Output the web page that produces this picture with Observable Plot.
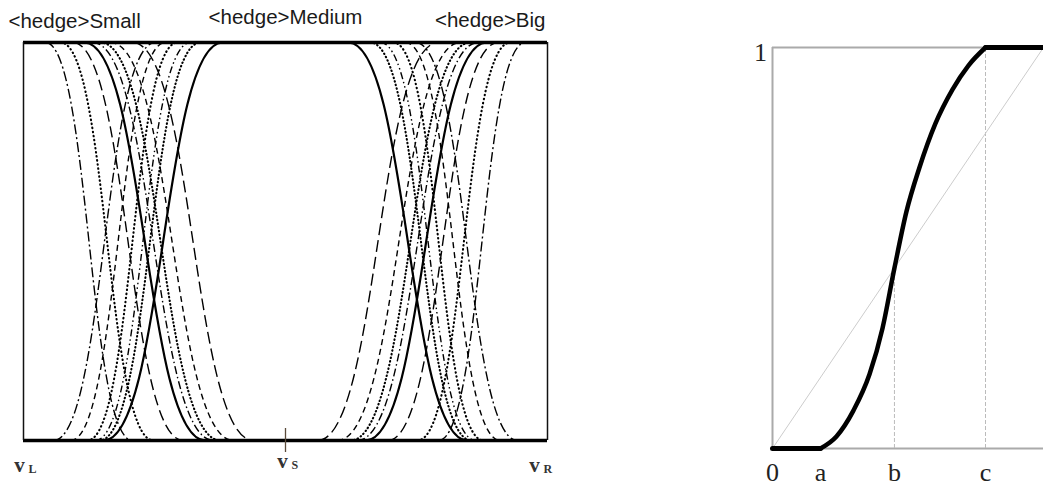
<!DOCTYPE html>
<html><head><meta charset="utf-8">
<script src="https://cdn.jsdelivr.net/npm/d3@7"></script>
<script src="https://cdn.jsdelivr.net/npm/@observablehq/plot@0.6"></script>
<style>
html,body{margin:0;padding:0;background:#fff;}
#wrap{position:relative;width:1043px;height:486px;overflow:hidden;background:#fff;}
#left{position:absolute;left:0;top:0;}
#right{position:absolute;left:700px;top:0;}
</style></head><body><div id="wrap"><div id="left"></div><div id="right"></div></div>
<script>
// ================= DATA =================
// Left panel: linguistic terms and the universe ticks v_L, v_S, v_R (scaled 0..1)
const termNames = ["Small", "Medium", "Big"];
const axisTickNames = ["L", "S", "R"];
const axisTickValues = [0, 0.5, 1];

// <hedge>Small : decreasing curves, x where μ leaves 1 and where μ reaches 0
const smallHedges = ["very very", "very", "more", "(none)", "possibly", "rather", "less", "little"];
const smallTop    = [0.042, 0.071, 0.094, 0.116, 0.132, 0.147, 0.166, 0.208];
const smallBottom = [0.208, 0.248, 0.305, 0.347, 0.363, 0.376, 0.401, 0.439];

// <hedge>Medium, left side: increasing curves (x where μ leaves 0, x where μ reaches 1)
const mediumLeftHedges = ["very very", "less", "very", "approximately", "rather", "(none)"];
const mediumLeftBottom = [0.057, 0.090, 0.122, 0.137, 0.145, 0.153];
const mediumLeftTop    = [0.252, 0.271, 0.294, 0.319, 0.338, 0.380];

// <hedge>Medium, right side: decreasing curves
const mediumRightHedges = ["very very", "less", "very", "approximately", "rather", "(none)"];
const mediumRightTop    = [0.748, 0.729, 0.706, 0.681, 0.662, 0.620];
const mediumRightBottom = [0.943, 0.910, 0.878, 0.863, 0.855, 0.847];

// <hedge>Big : increasing curves
const bigHedges = ["very very", "very", "more", "(none)", "possibly", "rather", "less", "little"];
const bigBottom = [0.792, 0.752, 0.695, 0.653, 0.637, 0.624, 0.599, 0.561];
const bigTop    = [0.958, 0.929, 0.906, 0.884, 0.868, 0.853, 0.834, 0.792];

// Right panel: S-shaped membership function on [0,1]
const sTickNames  = ["0", "a", "b", "c"];
const sTickValues = [0, 0.177, 0.45, 0.786];
const sCurveX = [0.177, 0.236, 0.299, 0.358, 0.406, 0.450, 0.494, 0.542, 0.601, 0.664, 0.723, 0.786];
const sCurveY = [0.000, 0.030, 0.095, 0.185, 0.300, 0.450, 0.590, 0.700, 0.810, 0.895, 0.955, 1.000];
const diagX = [0, 1];
const diagY = [0, 1];
const unitLabel = ["1"];

// ================= STYLES =================
const dashByHedge = {
  "very very": "10,3,2,3",
  "very": "0.5,3.6",
  "more": "11,5",
  "(none)": null,
  "possibly": "8,3,1.5,3",
  "rather": "0.5,3.2",
  "less": "6,4",
  "little": "12,5",
  "approximately": "7,3,1.5,3,1.5,3"
};
function curveMark(hedge, pts) {
  const d = dashByHedge[hedge];
  const dotted = d && d.startsWith("0.5");
  return Plot.line(pts, {
    x: "x", y: "y", curve: "bump-x",
    stroke: "#000",
    strokeWidth: d == null ? 2.2 : dotted ? 2.1 : 1.4,
    strokeDasharray: d == null ? undefined : d,
    strokeLinecap: dotted ? "round" : "butt"
  });
}
function familyMarks(hedges, a, b, aLevel, bLevel) {
  return hedges.map((h, i) => curveMark(h, [{x: a[i], y: aLevel}, {x: b[i], y: bLevel}]));
}

const curveMarks = [
  ...familyMarks(smallHedges, smallTop, smallBottom, 1, 0),
  ...familyMarks(mediumLeftHedges, mediumLeftBottom, mediumLeftTop, 0, 1),
  ...familyMarks(mediumRightHedges, mediumRightTop, mediumRightBottom, 1, 0),
  ...familyMarks(bigHedges, bigBottom, bigTop, 0, 1)
];

const termAnchor = ["start", "middle", "end"];
const termDx = [-15, 0, -2];
const termDy = [-21, -25, -22];
const vDx = [-4, -3, -13];
const vDy = [25, 21, 25];

const termMarks = termNames.map((t, i) => Plot.text([t], {
  x: () => axisTickValues[i], y: () => 1, text: d => `<hedge>${d}`,
  textAnchor: termAnchor[i], dx: termDx[i], dy: termDy[i],
  fontFamily: "Liberation Sans, Arial, sans-serif", fontSize: 20.5, fill: "#1a1a1a"
}));
const vMarks = axisTickValues.flatMap((v, i) => [
  Plot.text([v], {x: d => d, y: () => 0, text: () => "v", dx: vDx[i], dy: vDy[i],
    fontFamily: "Liberation Serif, serif", fontSize: 21, fontWeight: "bold", fill: "#333"}),
  Plot.text([v], {x: d => d, y: () => 0, text: () => axisTickNames[i], dx: vDx[i] + 9, dy: vDy[i] + 4,
    textAnchor: "start",
    fontFamily: "Liberation Serif, serif", fontSize: 12, fontWeight: "bold", fill: "#333"})
]);

const left = Plot.plot({
  width: 560, height: 486,
  marginLeft: 23, marginRight: 13, marginTop: 42, marginBottom: 46,
  x: {domain: [0, 1], axis: null},
  y: {domain: [0, 1], axis: null},
  style: {background: "white", overflow: "visible"},
  marks: [
    ...curveMarks,
    Plot.ruleY([0, 1], {stroke: "#000", strokeWidth: 3.5}),
    Plot.ruleX([0, 1], {stroke: "#111", strokeWidth: 1.5}),
    Plot.ruleX([axisTickValues[1]], {y1: () => 0, y2: () => 0, insetTop: -12, insetBottom: -12, stroke: "#5a4a3a", strokeWidth: 1.3}),
    ...termMarks,
    ...vMarks
  ]
});
document.getElementById("left").appendChild(left);

// ---------- right panel ----------
const [t0, ta, tb, tc] = sTickValues;
const right = Plot.plot({
  width: 343, height: 486,
  marginLeft: 72, marginRight: 0, marginTop: 47, marginBottom: 38,
  x: {domain: [0, 1], axis: null},
  y: {domain: [0, 1], axis: null},
  style: {background: "white", overflow: "visible"},
  marks: [
    Plot.ruleY([0], {stroke: "#aaa", strokeWidth: 2}),
    Plot.ruleX([0], {stroke: "#aaa", strokeWidth: 2}),
    Plot.ruleY([1], {x1: () => t0, x2: () => tc, stroke: "#aaa", strokeWidth: 2}),
    Plot.ruleX([tb], {y1: () => 0, y2: d => d, stroke: "#bbb", strokeWidth: 1, strokeDasharray: "4,2"}),
    Plot.ruleX([tc], {y1: () => 0, y2: () => 1, stroke: "#bbb", strokeWidth: 1, strokeDasharray: "4,2"}),
    Plot.line(diagX.map((x, i) => ({x, y: diagY[i]})), {x: "x", y: "y", stroke: "#ccc", strokeWidth: 1}),
    Plot.line(sCurveX.map((x, i) => ({x, y: sCurveY[i]})), {x: "x", y: "y", curve: "monotone-x", stroke: "#000", strokeWidth: 4.5}),
    Plot.line([{x: t0, y: 0}, {x: ta, y: 0}], {x: "x", y: "y", stroke: "#000", strokeWidth: 5}),
    Plot.line([{x: tc, y: 1}, {x: 1, y: 1}], {x: "x", y: "y", stroke: "#000", strokeWidth: 5}),
    Plot.text(sTickValues, {x: d => d, y: () => 0, text: (d, i) => sTickNames[i], dy: 24,
      fontFamily: "Liberation Serif, serif", fontSize: 26, fontStyle: (d, i) => i === 0 ? "normal" : "italic", fill: "#222"}),
    Plot.text(unitLabel, {x: () => 0, y: () => 1, text: d => d, dx: -12, dy: 5,
      fontFamily: "Liberation Serif, serif", fontSize: 26, fill: "#222"})
  ]
});
document.getElementById("right").appendChild(right);
</script></body></html>
